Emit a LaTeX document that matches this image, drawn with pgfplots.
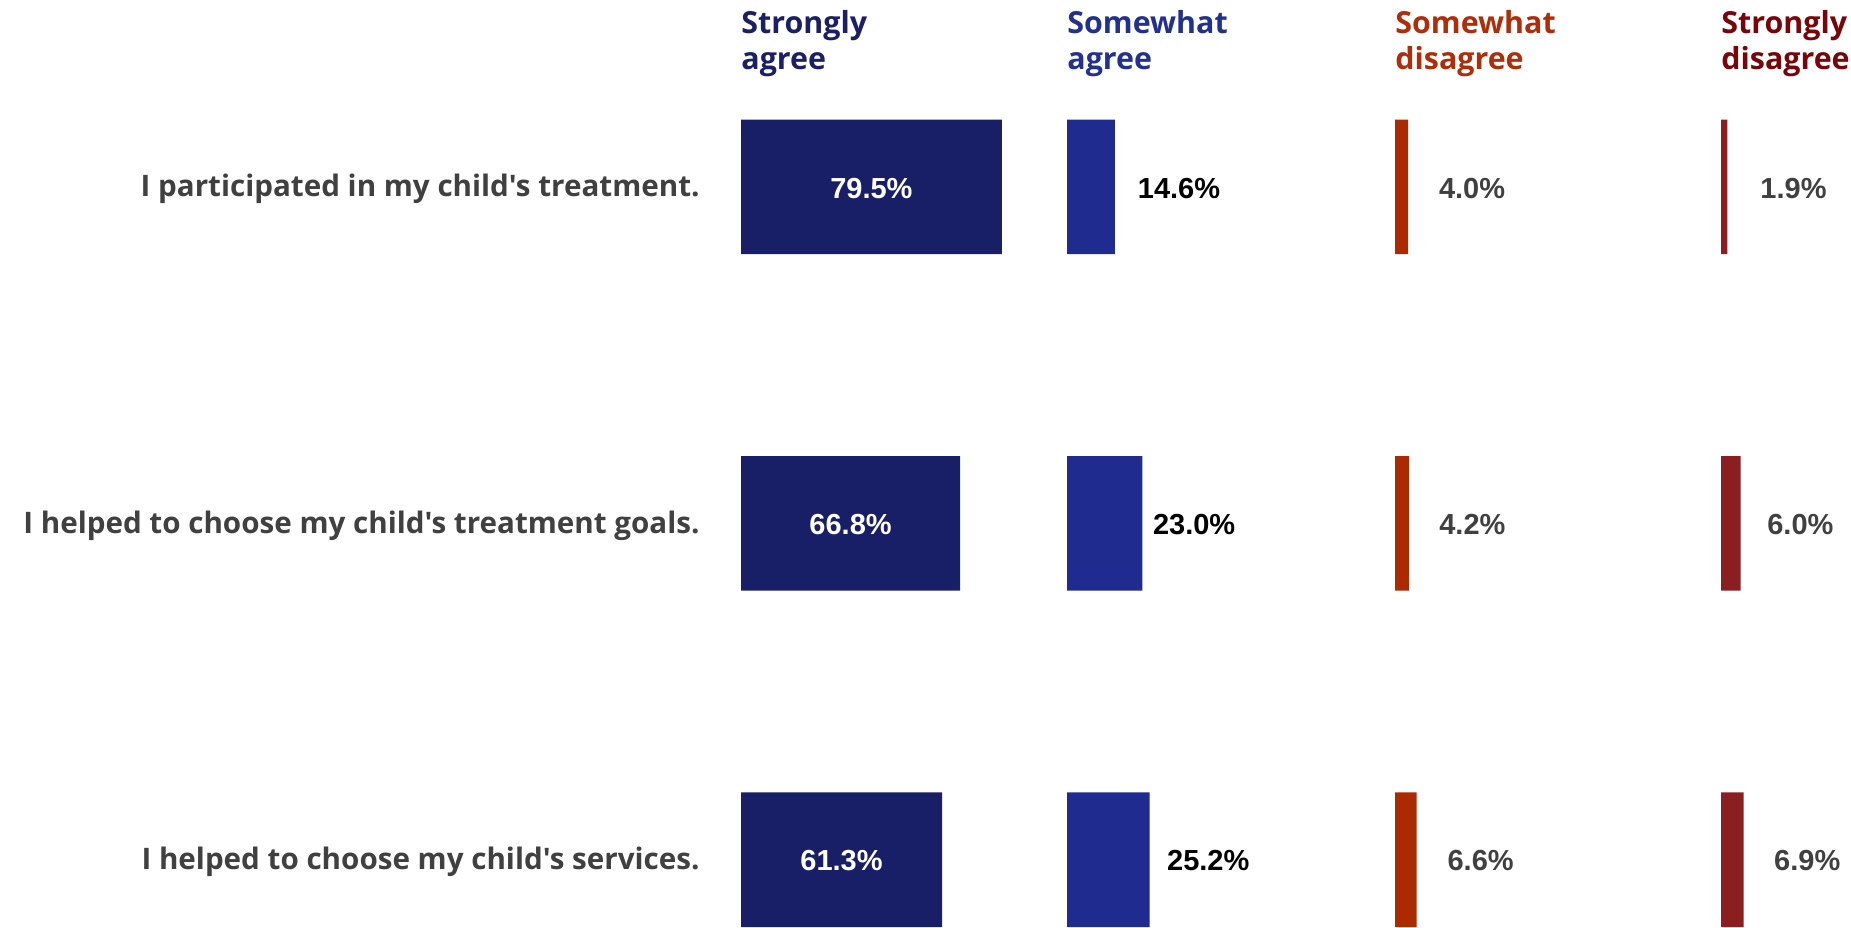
\documentclass[border=0pt]{standalone}
\usepackage{fontspec}
\setmainfont{Liberation Sans}
\newfontfamily\os{Open Sans}
\usepackage{pgfplots}
\usepackage{pgfplotstable}
\pgfplotsset{compat=1.18}
\definecolor{cSA}{HTML}{181F66}
\definecolor{cA}{HTML}{1F2B8F}
\definecolor{cD}{HTML}{AC2A00}
\definecolor{cSD}{HTML}{8B1E21}
\definecolor{hSA}{HTML}{1B1F66}
\definecolor{hA}{HTML}{22308F}
\definecolor{hD}{HTML}{B02D0A}
\definecolor{hSD}{HTML}{78050A}
\definecolor{lblgray}{HTML}{404040}

% y: row position (3 = top row), v: value, lx: x of value label
\pgfplotstableread{
y v lx
3 79.5 39.75
2 66.8 33.4
1 61.3 30.65
}\tSA
\pgfplotstableread{
y v lx
3 14.6 21.5
2 23.0 26.1
1 25.2 30.4
}\tA
\pgfplotstableread{
y v lx
3 4.0 13.3
2 4.2 13.4
1 6.6 15.9
}\tD
\pgfplotstableread{
y v lx
3 1.9 11.9
2 6.0 14.0
1 6.9 16.1
}\tSD

\pgfplotsset{
  /pgf/number format/assume math mode=true,
  panel/.style={
    x=1.64pt, y=168.2pt, xmin=0, ymin=0.8, ymax=3.2,
    hide axis, clip=false, anchor=south west,
    title style={at={(rel axis cs:0,1)}, anchor=north west, inner sep=0pt,
      align=left, yshift=48.8pt, font=\os\bfseries\fontsize{15.2}{18}\selectfont},
  },
  bars/.style={xbar, bar width=67.3pt, bar shift=0pt, draw=none, fill=#1},
  vals/.style={draw=none, mark=none, point meta=explicit,
    nodes near coords={\pgfmathprintnumber[fixed,fixed zerofill,precision=1]{\pgfplotspointmeta}\%},
    every node near coord/.append style={anchor=#1, inner sep=0pt, yshift=-0.6pt,
      font=\bfseries\fontsize{14.5}{16}\selectfont}},
}

\begin{document}
\begin{tikzpicture}
\path[use as bounding box] (0,0) rectangle (925.5pt,463.5pt);

\begin{axis}[panel, xmax=100, at={(370.5pt,0pt)}, title={Strongly\\agree}, title style={text=hSA}]
\addplot[bars=cSA] table[x=v, y=y] {\tSA};
\addplot[vals=center, every node near coord/.append style={text=white}] table[x=lx, y=y, meta=v] {\tSA};
\addplot[draw=none, mark=none, point meta=explicit symbolic, nodes near coords,
  every node near coord/.append style={anchor=east, inner sep=0pt, xshift=-20.5pt, yshift=-1pt,
    text=lblgray, font=\os\bfseries\fontsize{14.8}{18}\selectfont}]
  coordinates {(0,3) [I participated in my child's treatment.]
               (0,2) [I helped to choose my child's treatment goals.]
               (0,1) [I helped to choose my child's services.]};
\end{axis}

\begin{axis}[panel, xmax=40, at={(533.5pt,0pt)}, title={Somewhat\\agree}, title style={text=hA}]
\addplot[bars=cA] table[x=v, y=y] {\tA};
\addplot[vals=west, every node near coord/.append style={text=black}] table[x=lx, y=y, meta=v] {\tA};
\end{axis}

\begin{axis}[panel, xmax=40, at={(697.5pt,0pt)}, title={Somewhat\\disagree}, title style={text=hD}]
\addplot[bars=cD] table[x=v, y=y] {\tD};
\addplot[vals=west, every node near coord/.append style={text=lblgray}] table[x=lx, y=y, meta=v] {\tD};
\end{axis}

\begin{axis}[panel, xmax=40, at={(860.5pt,0pt)}, title={Strongly\\disagree}, title style={text=hSD}]
\addplot[bars=cSD] table[x=v, y=y] {\tSD};
\addplot[vals=west, every node near coord/.append style={text=lblgray}] table[x=lx, y=y, meta=v] {\tSD};
\end{axis}
\end{tikzpicture}
\end{document}
